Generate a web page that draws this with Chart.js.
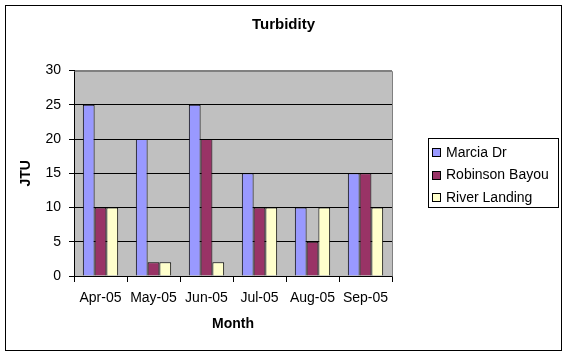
<!DOCTYPE html>
<html>
<head>
<meta charset="utf-8">
<script src="https://cdn.jsdelivr.net/npm/chart.js@4/dist/chart.umd.min.js"></script>
<style>
  html, body { margin: 0; padding: 0; background: #ffffff; }
  #wrap { width: 567px; height: 355px; position: relative; }
</style>
</head>
<body>
<div id="wrap"><canvas id="c" width="567" height="355"></canvas></div>
<script>
// ---- data ----
const months = ["Apr-05", "May-05", "Jun-05", "Jul-05", "Aug-05", "Sep-05"];
const marciaDr = [25, 20, 25, 15, 10, 15];
const robinsonBayou = [10, 2, 20, 10, 5, 15];
const riverLanding = [10, 2, 2, 10, 10, 10];
const seriesNames = ["Marcia Dr", "Robinson Bayou", "River Landing"];
const yTicks = [0, 5, 10, 15, 20, 25, 30];

const FONT = "'Liberation Sans', Arial, sans-serif";

const frame = {
  id: 'frame',
  beforeDraw(chart) {
    const {ctx, chartArea: a} = chart;
    ctx.save();
    ctx.fillStyle = '#ffffff';
    ctx.fillRect(0, 0, chart.width, chart.height);
    ctx.fillStyle = '#C0C0C0';
    ctx.fillRect(a.left, a.top, a.right - a.left, a.bottom - a.top);
    ctx.restore();
  },
  afterDraw(chart) {
    const {ctx, chartArea: a} = chart;
    ctx.save();
    // plot area top/right border (gray)
    ctx.strokeStyle = '#808080';
    ctx.lineWidth = 1;
    ctx.beginPath();
    ctx.moveTo(Math.round(a.left) + 0.5, Math.round(a.top) + 0.5);
    ctx.lineTo(Math.round(a.right) + 0.5, Math.round(a.top) + 0.5);
    ctx.lineTo(Math.round(a.right) + 0.5, Math.round(a.bottom) + 0.5);
    ctx.stroke();
    // outer border
    ctx.strokeStyle = '#000000';
    ctx.strokeRect(5.5, 5.5, 556, 345);
    // legend box
    ctx.strokeRect(428.5, 138.5, 130, 69);
    const ys = [152, 174.5, 197];
    ctx.font = '14px ' + FONT;
    ctx.textBaseline = 'middle';
    ctx.textAlign = 'left';
    chart.data.datasets.forEach((ds, i) => {
      const y = ys[i];
      ctx.fillStyle = ds.backgroundColor;
      ctx.fillRect(432.5, Math.round(y - 4) + 0.5, 8, 8);
      ctx.strokeStyle = '#000000';
      ctx.strokeRect(432.5, Math.round(y - 4) + 0.5, 8, 8);
      ctx.fillStyle = '#000000';
      ctx.fillText(ds.label, 446, y + 1);
    });
    ctx.restore();
  }
};

new Chart(document.getElementById('c'), {
  type: 'bar',
  data: {
    labels: months,
    datasets: [
      { label: seriesNames[0], data: marciaDr, backgroundColor: '#9999FF' },
      { label: seriesNames[1], data: robinsonBayou, backgroundColor: '#993366' },
      { label: seriesNames[2], data: riverLanding, backgroundColor: '#FFFFCC' }
    ].map(d => Object.assign(d, {
      borderColor: '#000000', borderWidth: 1,
      categoryPercentage: 0.667, barPercentage: 1.0
    }))
  },
  options: {
    responsive: false,
    animation: false,
    devicePixelRatio: 1,
    layout: { padding: { left: 0, right: 0, top: 0, bottom: 0 } },
    plugins: {
      legend: { display: false },
      tooltip: { enabled: false },
      title: {
        display: true, text: 'Turbidity', color: '#000000',
        font: { family: FONT, size: 15, weight: 'bold' },
        padding: { top: 16, bottom: 36.5 }
      }
    },
    scales: {
      x: {
        grid: { offset: true, drawOnChartArea: false, drawTicks: true, tickLength: 6, color: '#000000' },
        border: { color: '#000000', width: 1 },
        ticks: { color: '#000000', font: { family: FONT, size: 14 }, padding: 8, maxRotation: 0, autoSkip: false },
        title: { display: true, text: 'Month', color: '#000000', font: { family: FONT, size: 14, weight: 'bold' }, padding: { top: 0, bottom: 22.5 } },
        afterFit(s) { s.height = 79; }
      },
      y: {
        min: 0, max: 30,
        afterBuildTicks(s) { s.ticks = yTicks.map(v => ({ value: v })); },
        grid: {
          drawTicks: true, tickLength: 5,
          color: c => (c.tick && c.tick.value === 30) ? '#808080' : '#000000',
          tickColor: '#000000'
        },
        border: { color: '#000000', width: 1 },
        ticks: { color: '#000000', font: { family: FONT, size: 14 }, padding: 8 },
        title: { display: true, text: 'JTU', color: '#000000', font: { family: FONT, size: 14, weight: 'bold' }, padding: { top: 17.6, bottom: 0 } },
        afterFit(s) { s.width = 74; }
      },
      legendSpace: {
        type: 'linear', axis: 'y', position: 'right', min: 0, max: 30,
        grid: { display: false, drawOnChartArea: false, drawTicks: false },
        border: { display: false },
        ticks: { display: false },
        afterFit(s) { s.width = 175; }
      }
    }
  },
  plugins: [frame]
});
</script>
</body>
</html>
